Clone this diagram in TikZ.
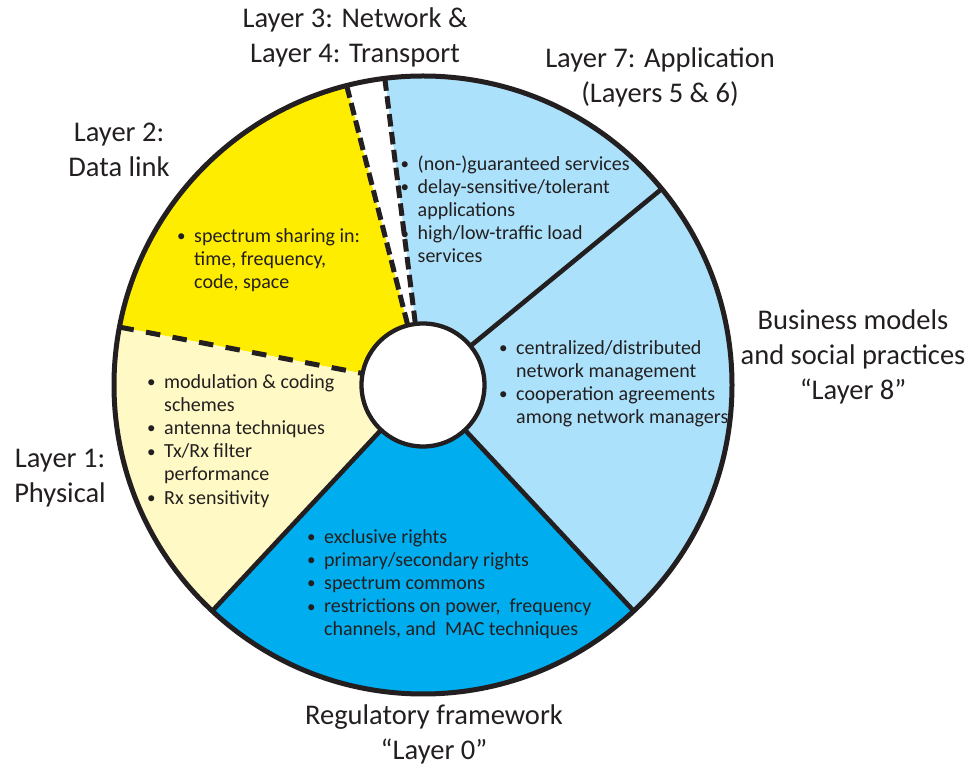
\documentclass[tikz,border=0pt]{standalone}
\usepackage{fontspec}
\setmainfont{Carlito}
\definecolor{ink}{HTML}{231F20}
\definecolor{yel}{HTML}{FFED00}
\definecolor{lyel}{HTML}{FFF9C5}
\definecolor{lblue}{HTML}{ABE1FA}
\definecolor{cyanb}{HTML}{00AEEF}
\newcommand\bul{\makebox[18pt][l]{\hspace*{1pt}\raisebox{0.7pt}{\fontsize{17}{17}\selectfont •}}}
\newcommand\cont{\hspace*{18pt}}
\newcommand\fst{\rule{0pt}{15pt}}
\tikzset{
  biglabel/.style={font=\fontsize{28.5}{35}\selectfont, align=center, text=ink, inner sep=0pt},
  bullets/.style={font=\fontsize{20}{23.2}\selectfont, align=left, text=ink, inner sep=0pt, anchor=north west},
  solidsep/.style={draw=ink, line width=4.6pt},
  dashsep/.style={draw=ink, line width=5pt, dash pattern=on 12.5pt off 5.5pt},
  dashsepwide/.style={draw=ink, line width=5pt, dash pattern=on 14.5pt off 12.5pt},
}
\begin{document}
\begin{tikzpicture}[x=1pt,y=1pt,line join=round]
\useasboundingbox (0,0) rectangle (972,766);
\coordinate (C) at (423,381);
\def\R{309}
\def\r{61.5}
% sectors
\fill[lblue] (C) -- ([shift={(-47:\R)}]C) arc[start angle=-47,end angle=39.4,radius=\R] -- cycle;
\fill[lblue] (C) -- ([shift={(39.4:\R)}]C) arc[start angle=39.4,end angle=97.1,radius=\R] -- cycle;
\fill[white] (C) -- ([shift={(97.1:\R)}]C) arc[start angle=97.1,end angle=104.3,radius=\R] -- cycle;
\fill[yel] (C) -- ([shift={(104.3:\R)}]C) arc[start angle=104.3,end angle=169.2,radius=\R] -- cycle;
\fill[lyel] (C) -- ([shift={(169.2:\R)}]C) arc[start angle=169.2,end angle=227,radius=\R] -- cycle;
\fill[cyanb] (C) -- ([shift={(227:\R)}]C) arc[start angle=227,end angle=313,radius=\R] -- cycle;
% separators
\draw[solidsep] ([shift={(39.4:\r)}]C) -- ([shift={(39.4:\R)}]C);
\draw[solidsep] ([shift={(-47:\r)}]C) -- ([shift={(-47:\R)}]C);
\draw[solidsep] ([shift={(227:\r)}]C) -- ([shift={(227:\R)}]C);
\draw[dashsep] ([shift={(97.1:\R)}]C) -- ([shift={(97.1:\r)}]C);
\draw[dashsep] ([shift={(104.3:\R)}]C) -- ([shift={(104.3:\r)}]C);
\draw[dashsepwide] ([shift={(169.2:\R)}]C) -- ([shift={(169.2:\r)}]C);
% circles
\draw[draw=ink, fill=white, line width=4.3pt] (C) circle[radius=\r];
\draw[draw=ink, line width=5pt] (C) circle[radius=\R];
% outer labels
\node[biglabel] (l34) at (355,729) {Layer 3: Network \&\\Layer 4: Transport};
\node[biglabel] (l7) at (660,689) {Layer 7: Application\\(Layers 5 \& 6)};
\node[biglabel] (l2) at (119,616) {Layer 2:\\Data link};
\node[biglabel] (l1) at (60,288) {Layer 1:\\Physical};
\node[biglabel] (l8) at (853,409) {Business models\\and social practices\\“Layer 8”};
\node[biglabel] (l0) at (434,32) {Regulatory framework\\“Layer 0”};
% bullet texts
\node[bullets] (b7) at (399.5,611) {\fst\bul(non-)guaranteed services\\\bul delay-sensitive/tolerant\\\cont applications\\\bul high/low-traffic load\\\cont services};
\node[bullets] (b2) at (176,539) {\fst\bul spectrum sharing in:\\\cont time, frequency,\\\cont code, space};
\node[bullets] (b8) at (498,427) {\fst\bul centralized/distributed\\\cont network management\\\bul cooperation agreements\\\cont among network managers};
\node[bullets] (b1) at (146,393) {\fst\bul modulation \& coding\\\cont schemes\\\bul antenna techniques\\\bul Tx/Rx filter\\\cont performance\\\bul Rx sensitivity};
\node[bullets] (b0) at (306,238) {\fst\bul exclusive rights\\\bul primary/secondary rights\\\bul spectrum commons\\\bul restrictions on power,\ \ frequency\\\cont channels, and\ \ MAC techniques};
\end{tikzpicture}
\end{document}
